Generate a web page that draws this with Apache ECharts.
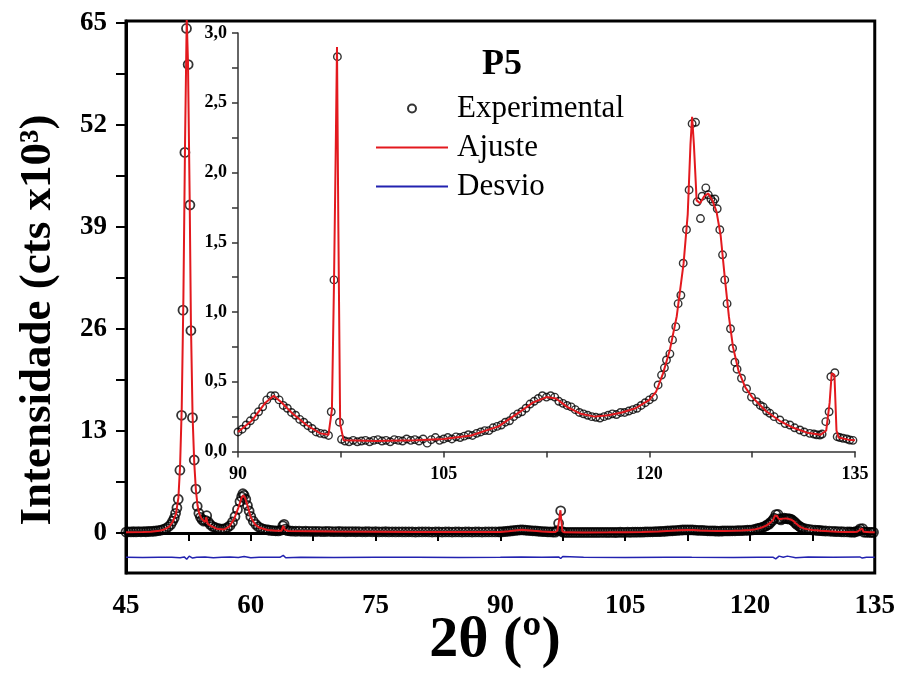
<!DOCTYPE html>
<html>
<head>
<meta charset="utf-8">
<script src="https://cdn.jsdelivr.net/npm/echarts@6/dist/echarts.min.js"></script>
<style>
html,body{margin:0;padding:0;background:#fff;}
#chart{width:898px;height:674px;}
</style>
</head>
<body>
<div id="chart"></div>
<script>
// ---------- DATA (2θ in degrees, intensity in 10^3 cts) ----------
const mainXTicks = [45, 60, 75, 90, 105, 120, 135];
const mainYTicks = [0, 13, 26, 39, 52, 65];
const insetXTicks = [90, 105, 120, 135];
const insetYTicks = [0, 0.5, 1.0, 1.5, 2.0, 2.5, 3.0];

// Experimental points, 45–90° (main plot only)
const expA = [
[45.0,0.12],[45.3,0.15],[45.6,0.13],[45.9,0.16],[46.2,0.14],[46.5,0.17],[46.8,0.15],[47.1,0.18],[47.4,0.16],[47.7,0.19],
[48.0,0.2],[48.3,0.22],[48.6,0.25],[48.9,0.3],[49.2,0.36],[49.5,0.45],[49.8,0.58],[50.1,0.8],[50.4,1.1],[50.6,1.5],
[50.8,1.9],[50.96,2.5],[51.12,3.2],[51.28,4.3],[51.48,8.0],[51.68,15.0],[51.85,28.4],[52.08,48.5],[52.27,64.3],[52.47,59.7],
[52.68,41.8],[52.8,25.8],[52.99,14.7],[53.2,9.3],[53.4,5.6],[53.56,3.4],[53.76,2.5],[53.95,2.0],[54.15,1.7],[54.35,1.5],
[54.55,1.6],[54.7,2.2],[54.9,1.4],[55.1,1.1],[55.4,0.85],[55.7,0.7],[56.0,0.6],[56.3,0.52],[56.6,0.5],[56.9,0.55],
[57.2,0.7],[57.5,0.95],[57.8,1.4],[58.1,2.1],[58.4,3.0],[58.7,4.0],[58.9,4.6],[59.05,5.0],[59.2,4.8],[59.4,4.3],
[59.6,3.5],[59.8,2.8],[60.0,2.1],[60.3,1.5],[60.6,1.1],[60.9,0.8],[61.2,0.62],[61.5,0.5],[61.8,0.43],[62.1,0.38],
[62.4,0.34],[62.7,0.3],[63.0,0.28],[63.3,0.27],[63.6,0.35],[63.85,0.9],[64.0,1.1],[64.15,0.5],[64.4,0.3],[64.7,0.26],
[65.0,0.24],[65.4,0.22],[65.8,0.23],[66.2,0.21],[66.6,0.22],[67.0,0.2],[67.4,0.21],[67.8,0.19],[68.2,0.2],[68.6,0.18],
[69.0,0.19],[69.4,0.2],[69.8,0.18],[70.2,0.17],[70.6,0.19],[71.0,0.18],[71.4,0.16],[71.8,0.17],[72.2,0.18],[72.6,0.16],
[73.0,0.17],[73.4,0.15],[73.8,0.16],[74.2,0.17],[74.6,0.15],[75.0,0.16],[75.4,0.14],[75.8,0.15],[76.2,0.16],[76.6,0.14],
[77.0,0.15],[77.4,0.13],[77.8,0.15],[78.2,0.14],[78.6,0.13],[79.0,0.15],[79.4,0.14],[79.8,0.12],[80.2,0.14],[80.6,0.13],
[81.0,0.15],[81.4,0.13],[81.8,0.12],[82.2,0.14],[82.6,0.13],[83.0,0.12],[83.4,0.14],[83.8,0.13],[84.2,0.12],[84.6,0.14],
[85.0,0.13],[85.4,0.12],[85.8,0.14],[86.2,0.13],[86.6,0.12],[87.0,0.14],[87.4,0.13],[87.8,0.12],[88.2,0.13],[88.6,0.14],
[89.0,0.13],[89.4,0.14],[89.8,0.13]
];

// Experimental points, 90–135° (main plot and inset)
const expB = [
[90.0,0.14],[90.3,0.16],[90.6,0.19],[90.9,0.22],[91.2,0.25],[91.5,0.285],[91.8,0.32],[92.1,0.37],[92.4,0.4],[92.7,0.4],
[93.0,0.37],[93.3,0.33],[93.6,0.31],[93.9,0.28],[94.2,0.26],[94.5,0.23],[94.8,0.21],[95.1,0.185],[95.4,0.165],[95.7,0.14],
[96.0,0.13],[96.3,0.125],[96.6,0.115],[96.8,0.285],[97.0,1.23],[97.25,2.83],[97.4,0.21],[97.55,0.087],[97.8,0.075],[98.1,0.07],
[98.4,0.08],[98.7,0.07],[99.0,0.075],[99.3,0.08],[99.6,0.07],[99.9,0.08],[100.2,0.085],[100.5,0.075],[100.8,0.08],[101.1,0.07],
[101.4,0.085],[101.7,0.08],[102.0,0.075],[102.3,0.09],[102.6,0.08],[102.9,0.085],[103.2,0.075],[103.5,0.09],[103.8,0.06],[104.1,0.085],
[104.4,0.1],[104.7,0.08],[105.0,0.09],[105.3,0.1],[105.6,0.09],[105.9,0.105],[106.2,0.1],[106.5,0.11],[106.8,0.12],[107.1,0.115],
[107.4,0.13],[107.7,0.14],[108.0,0.15],[108.3,0.15],[108.6,0.17],[108.9,0.18],[109.2,0.19],[109.5,0.21],[109.8,0.22],[110.1,0.25],
[110.4,0.27],[110.7,0.285],[111.0,0.31],[111.3,0.34],[111.6,0.36],[111.9,0.38],[112.2,0.4],[112.5,0.39],[112.8,0.4],[113.1,0.39],
[113.4,0.36],[113.7,0.345],[114.0,0.33],[114.3,0.32],[114.6,0.3],[114.9,0.28],[115.2,0.27],[115.5,0.26],[115.8,0.25],[116.1,0.245],
[116.4,0.24],[116.7,0.25],[117.0,0.26],[117.3,0.27],[117.6,0.265],[117.9,0.28],[118.2,0.28],[118.5,0.29],[118.8,0.3],[119.1,0.31],
[119.4,0.33],[119.7,0.35],[120.0,0.37],[120.3,0.39],[120.64,0.477],[120.89,0.548],[121.1,0.6],[121.25,0.656],[121.5,0.7],[121.69,0.8],
[121.93,0.895],[122.1,1.06],[122.3,1.12],[122.47,1.35],[122.71,1.59],[122.9,1.875],[123.12,2.35],[123.37,2.36],[123.49,1.79],[123.73,1.67],
[123.85,1.83],[124.12,1.89],[124.3,1.84],[124.49,1.81],[124.65,1.79],[124.78,1.81],[124.95,1.74],[125.14,1.59],[125.34,1.41],[125.5,1.23],
[125.67,1.06],[125.92,0.88],[126.07,0.74],[126.24,0.64],[126.4,0.59],[126.72,0.525],[127.09,0.45],[127.45,0.39],[127.82,0.357],[128.1,0.33],
[128.3,0.32],[128.55,0.29],[128.79,0.274],[129.1,0.25],[129.52,0.226],[129.9,0.2],[130.25,0.19],[130.6,0.17],[130.98,0.154],[131.3,0.14],
[131.7,0.13],[132.0,0.125],[132.2,0.12],[132.44,0.118],[132.6,0.125],[132.87,0.214],[133.11,0.285],[133.24,0.536],[133.53,0.565],[133.7,0.106],
[133.9,0.1],[134.13,0.095],[134.4,0.09],[134.62,0.082],[134.85,0.08]
];

// Fitted profile (Ajuste)
const fitA = [
[45,0.1],[47,0.13],[48,0.15],[49,0.28],[49.5,0.4],[50.2,0.8],[50.6,1.4],[51.0,2.4],[51.3,4.5],[51.5,8.5],
[51.7,16],[51.9,30],[52.1,50],[52.3,65.5],[52.45,60],[52.65,43],[52.8,27],[53.0,15],[53.2,9],[53.4,5.5],
[53.6,3.5],[53.8,2.5],[54.1,1.8],[54.5,1.4],[54.65,2.0],[54.8,1.2],[55.2,0.9],[56,0.5],[56.8,0.45],[57.4,0.8],
[58.0,1.8],[58.5,3.2],[58.9,4.5],[59.1,4.8],[59.3,4.5],[59.6,3.5],[60.0,2.0],[60.5,1.1],[61.0,0.7],[62.0,0.38],
[63.0,0.27],[63.7,0.3],[63.9,0.9],[64.1,0.4],[64.5,0.25],[70,0.18],[80,0.14],[88,0.13],[90,0.14]
];
const fitB = [
[90,0.14],[91,0.22],[92,0.35],[92.6,0.4],[93.2,0.35],[94,0.27],[95,0.19],[96,0.13],[96.6,0.12],[96.85,0.3],
[97.0,1.2],[97.12,2.1],[97.22,2.9],[97.32,1.6],[97.45,0.2],[97.7,0.08],[100,0.075],[103,0.08],[105,0.09],[107,0.115],
[109,0.18],[110.5,0.28],[111.5,0.35],[112.5,0.39],[113.2,0.38],[114,0.32],[115,0.27],[116,0.25],[117,0.26],[118,0.28],
[119,0.31],[120,0.37],[120.5,0.43],[121,0.56],[121.5,0.73],[122,0.97],[122.5,1.35],[122.8,1.7],[123.0,2.2],[123.12,2.4],
[123.25,2.2],[123.45,1.8],[123.7,1.78],[124.0,1.83],[124.3,1.85],[124.6,1.8],[124.9,1.72],[125.2,1.55],[125.5,1.25],[125.8,0.97],
[126.1,0.75],[126.5,0.58],[127,0.46],[127.5,0.39],[128,0.34],[128.5,0.29],[129.5,0.22],[130.5,0.17],[131.5,0.135],[132.5,0.12],
[132.9,0.15],[133.15,0.35],[133.3,0.56],[133.5,0.55],[133.65,0.15],[133.8,0.1],[134.5,0.085],[135,0.08]
];

// Difference curve (Desvio), plotted with its offset
const desvio = [
[45,-3.1],[47,-3.12],[49,-3.08],[50.5,-3.1],[51.5,-3.15],[52.0,-3.05],[52.3,-3.35],[52.6,-2.95],[53.0,-3.2],[53.5,-3.1],
[54.5,-3.05],[55.5,-3.15],[56.5,-3.1],[57.5,-3.05],[58.5,-3.12],[59.2,-3.0],[60,-3.15],[61,-3.1],[62,-3.08],[63.5,-3.1],
[63.9,-2.85],[64.2,-3.15],[66,-3.1],[70,-3.12],[75,-3.08],[80,-3.1],[85,-3.12],[90,-3.1],[92.5,-3.05],[95,-3.1],
[97.0,-3.05],[97.25,-3.25],[97.5,-3.0],[100,-3.1],[105,-3.12],[110,-3.08],[113,-3.1],[118,-3.12],[121,-3.08],[122.8,-3.1],
[123.1,-3.3],[123.5,-2.95],[124,-3.1],[124.5,-2.95],[125.5,-3.15],[127,-3.05],[130,-3.1],[133.2,-3.05],[133.5,-3.2],[134,-3.1],
[135,-3.1]
];

// ---------- CHART ----------
const FONT = '"Liberation Serif", "Times New Roman", serif';
const RED = '#e3191e', BLUE = '#2222b0';
const chart = echarts.init(document.getElementById('chart'), null, {renderer: 'canvas'});

const halfTicks = [];
for (let i = 0; i < mainYTicks.length; i++) {
  halfTicks.push(mainYTicks[i]);
  if (i < mainYTicks.length - 1) halfTicks.push((mainYTicks[i] + mainYTicks[i + 1]) / 2);
}
const comma = v => v.toFixed(1).replace('.', ',');
const isIn = (arr, v) => arr.some(t => Math.abs(t - v) < 1e-6);

chart.setOption({
  animation: false,
  backgroundColor: '#fff',
  title: {
    text: 'P5', left: 482, top: 47, padding: 0,
    textStyle: {fontFamily: FONT, fontWeight: 'bold', fontSize: 36, color: '#000'}
  },
  legend: {
    orient: 'vertical', left: 375, top: 89, padding: 0, itemGap: 0,
    itemWidth: 72, itemHeight: 8,
    textStyle: {fontFamily: FONT, fontSize: 31, color: '#000', lineHeight: 39, padding: [0, 0, 0, 4]},
    data: [
      {name: 'Experimental'},
      {name: 'Ajuste', itemStyle: {opacity: 0}},
      {name: 'Desvio', itemStyle: {opacity: 0}}
    ]
  },
  grid: [
    {left: 126, right: 22, top: 21, bottom: 101, show: true, borderColor: '#000', borderWidth: 3, backgroundColor: 'transparent'},
    {left: 238, right: 43, top: 33, bottom: 222.5}
  ],
  xAxis: [
    {
      gridIndex: 0, type: 'value', min: 45, max: 135, interval: 7.5,
      axisLine: {lineStyle: {color: '#000', width: 3}},
      axisTick: {length: 8, lineStyle: {color: '#000', width: 2}},
      axisLabel: {margin: 20, fontFamily: FONT, fontWeight: 'bold', fontSize: 27, color: '#000',
        formatter: v => isIn(mainXTicks, v) ? String(v) : ''},
      splitLine: {show: false}
    },
    {
      gridIndex: 1, type: 'value', min: 90, max: 135, interval: 7.5,
      axisLine: {lineStyle: {color: '#333', width: 1.5}},
      axisTick: {length: 6, lineStyle: {color: '#333', width: 1.5}},
      axisLabel: {margin: 14, fontFamily: FONT, fontWeight: 'bold', fontSize: 18, color: '#000',
        formatter: v => isIn(insetXTicks, v) ? String(v) : ''},
      splitLine: {show: false}
    }
  ],
  yAxis: [
    {
      gridIndex: 0, type: 'value', min: -5.1, max: 65.25,
      axisLine: {show: true, lineStyle: {color: '#000', width: 3}},
      axisTick: {show: true, length: 10, lineStyle: {color: '#000', width: 2}, customValues: halfTicks},
      axisLabel: {margin: 19, fontFamily: FONT, fontWeight: 'bold', fontSize: 27, color: '#000',
        customValues: mainYTicks, formatter: v => String(v)},
      splitLine: {show: false}
    },
    {
      gridIndex: 1, type: 'value', min: 0, max: 3.0, interval: 0.25,
      axisLine: {show: true, lineStyle: {color: '#333', width: 1.5}},
      axisTick: {show: true, length: 6, lineStyle: {color: '#333', width: 1.5}},
      axisLabel: {margin: 11, fontFamily: FONT, fontWeight: 'bold', fontSize: 18, color: '#000',
        formatter: v => isIn(insetYTicks, v) ? comma(v) : ''},
      splitLine: {show: false}
    }
  ],
  graphic: [
    {type: 'text', x: 38, y: 320, rotation: Math.PI / 2,
     style: {text: 'Intensidade (cts x10³)', font: 'bold 45px ' + FONT, fill: '#000', align: 'center', verticalAlign: 'middle'}},
    {type: 'text', x: 495, y: 641,
     style: {text: '2θ (º)', font: 'bold 58px ' + FONT, fill: '#000', align: 'center', verticalAlign: 'middle'}}
  ],
  series: [
    {name: 'Experimental', type: 'scatter', xAxisIndex: 0, yAxisIndex: 0, data: expA.concat(expB),
     symbol: 'circle', symbolSize: 9, z: 2,
     itemStyle: {color: 'rgba(0,0,0,0)', borderColor: '#000', borderWidth: 1.8}},
    {name: 'Ajuste', type: 'line', xAxisIndex: 0, yAxisIndex: 0, data: fitA.concat(fitB),
     symbol: 'none', z: 3, lineStyle: {color: RED, width: 2}, itemStyle: {color: RED}},
    {name: 'Desvio', type: 'line', xAxisIndex: 0, yAxisIndex: 0, data: desvio,
     symbol: 'none', z: 3, lineStyle: {color: BLUE, width: 1.5}, itemStyle: {color: BLUE}},
    {name: 'Experimental', type: 'scatter', xAxisIndex: 1, yAxisIndex: 1, data: expB,
     symbol: 'circle', symbolSize: 7.5, z: 4,
     itemStyle: {color: 'rgba(0,0,0,0)', borderColor: '#000', borderWidth: 1.4}},
    {name: 'Ajuste', type: 'line', xAxisIndex: 1, yAxisIndex: 1, data: fitB,
     symbol: 'none', z: 5, lineStyle: {color: RED, width: 2}, itemStyle: {color: RED}}
  ]
});
</script>
</body>
</html>
